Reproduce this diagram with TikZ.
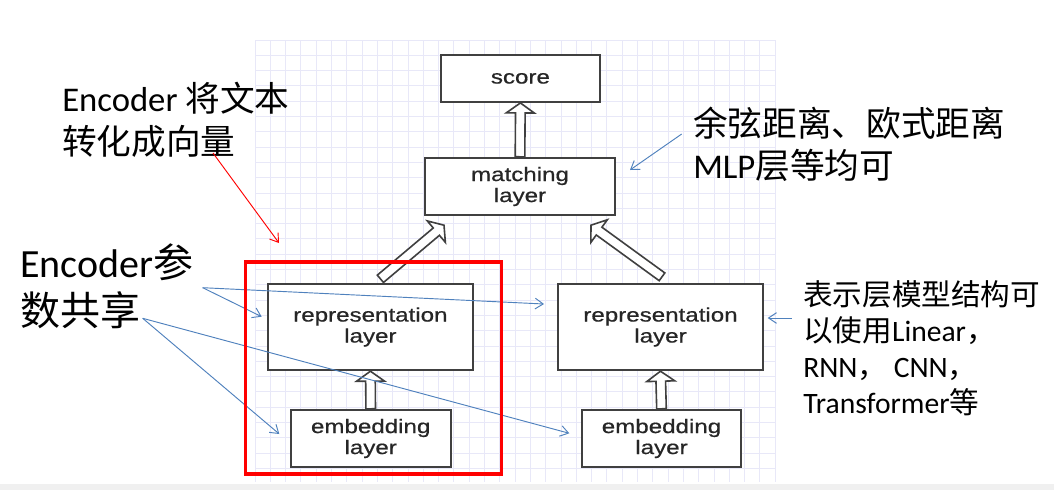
\documentclass[tikz,border=0pt]{standalone}
\usepackage{fontspec}
\setmainfont{Carlito}
\newfontfamily\cjk{Noto Sans CJK SC}
\newfontfamily\boxfont[FakeStretch=1.24,FakeBold=0.6]{Liberation Sans}
\usetikzlibrary{calc,arrows.meta}
\definecolor{gridc}{RGB}{232,232,248}
\definecolor{annblue}{RGB}{79,129,189}
\definecolor{boxline}{RGB}{64,64,64}
\definecolor{stripc}{RGB}{240,240,240}
\newcommand\hollowarr[3]{%
  \coordinate (#3b) at ($(#2)!7.5pt!(#1)$);
  \draw[harrow] ($(#1)!3.6pt!90:(#2)$) -- ($(#3b)!3.6pt!90:(#2)$) -- ($(#3b)!10.5pt!90:(#2)$) -- (#2) -- ($(#3b)!10.5pt!-90:(#2)$) -- ($(#3b)!3.6pt!-90:(#2)$) -- ($(#1)!3.6pt!-90:(#2)$) -- cycle;}
\tikzset{
  layerbox/.style={draw=boxline, line width=1.8pt, fill=white, inner sep=0pt, align=center,
    font=\boxfont\fontsize{14.6}{15.75}\selectfont, text=black!85},
  harrow/.style={draw=boxline, line width=1.2pt, fill=white, line join=miter},
  gridline/.style={draw=gridc, line width=0.75pt},
  bluearrow/.style={draw=annblue, line width=0.7pt, -{Straight Barb[length=6pt,width=8pt]}},
  redarrow/.style={draw=red, line width=0.7pt, -{Straight Barb[length=6pt,width=8pt]}},
  txta/.style={inner sep=0pt, anchor=base west, font=\fontsize{26}{30}\selectfont},
  txtb/.style={inner sep=0pt, anchor=base west, font=\fontsize{30}{34}\selectfont},
  txtc/.style={inner sep=0pt, anchor=base west, font=\fontsize{22.2}{26}\selectfont},
}
\begin{document}
\begin{tikzpicture}[x=0.75pt,y=-0.75pt]
\useasboundingbox (0,0) rectangle (1054,490);
\fill[white] (0,0) rectangle (1054,490);
\fill[stripc] (0,484) rectangle (1054,490);
% grid
\foreach \i in {0,...,34} { \draw[gridline] (255+15.3*\i,40) -- (255+15.3*\i,482); }
\foreach \j in {0,...,28} { \draw[gridline] (255,40+15.3*\j) -- (775,40+15.3*\j); }
% boxes
\node[layerbox, minimum width=119.5pt, minimum height=35pt] (score) at (520.4,78.4) {score};
\node[layerbox, minimum width=142.5pt, minimum height=42.75pt] (match) at (520,186.5) {matching\\layer};
\node[layerbox, minimum width=153.75pt, minimum height=64.5pt] (repL) at (370.4,327) {representation\\layer};
\node[layerbox, minimum width=153.75pt, minimum height=64.5pt] (repR) at (660.5,327) {representation\\layer};
\node[layerbox, minimum width=120pt, minimum height=42.75pt] (embL) at (370.7,438.5) {embedding\\layer};
\node[layerbox, minimum width=119.25pt, minimum height=42.75pt] (embR) at (661.5,438.5) {embedding\\layer};
% hollow arrows
\hollowarr{match.north}{score.south}{ha}
\hollowarr{embL.north}{repL.south}{hb}
\hollowarr{embR.north}{repR.south}{hc}
\coordinate (dLt) at ($(repL.north)+(10,-4)$);
\coordinate (dLh) at ($(match.south)+(-76,9)$);
\coordinate (dRt) at ($(repR.north)+(1.5,-6)$);
\coordinate (dRh) at ($(match.south)+(71,9)$);
\hollowarr{dLt}{dLh}{hd}
\hollowarr{dRt}{dRh}{he}
% texts
\node[txta] (t1a) at (62,111) {Encoder {\cjk 将文本}};
\node[txta] (t1b) at (62,154) {\cjk 转化成向量};
\node[txtb] (t2a) at (20,277) {Encoder{\cjk 参}};
\node[txtb] (t2b) at (20,325) {\cjk 数共享};
\node[txta] (t3a) at (693,136) {\cjk 余弦距离、欧式距离};
\node[txta] (t3b) at (693,178) {MLP{\cjk 层等均可}};
\node[txtc] (t4a) at (803,305) {\cjk 表示层模型结构可};
\node[txtc] (t4b) at (803,341) {{\cjk 以使用}Linear{\cjk ，}};
\node[txtc] (t4c) at (803,377) {RNN{\cjk ，} CNN{\cjk ，}};
\node[txtc] (t4d) at (803,413) {Transformer{\cjk 等}};
% annotation arrows
\coordinate (s1) at (202.7,287.7);
\coordinate (s2) at (142.7,318.3);
\coordinate (p1) at (261.7,316.7);
\coordinate (p2) at (544,304);
\coordinate (p3) at (279.3,434);
\coordinate (p4) at (569.3,433.3);
\draw[bluearrow] (s1) -- (p1);
\draw[bluearrow] (s1) -- (p2);
\draw[bluearrow] (s2) -- (p3);
\draw[bluearrow] (s2) -- (p4);
\coordinate (s3) at (681.7,134);
\coordinate (p5) at (630,170);
\draw[bluearrow] (s3) -- (p5);
\coordinate (s4) at (791.7,318);
\coordinate (p6) at (767.7,318);
\draw[bluearrow] (s4) -- (p6);
% red box and arrow
\node[draw=red, line width=2.5pt, inner sep=0pt, minimum width=192pt, minimum height=159pt] (redbox) at (373.3,368) {};
\coordinate (s5) at (213,153);
\coordinate (p7) at (279,243);
\draw[redarrow] (s5) -- (p7);
\end{tikzpicture}
\end{document}
